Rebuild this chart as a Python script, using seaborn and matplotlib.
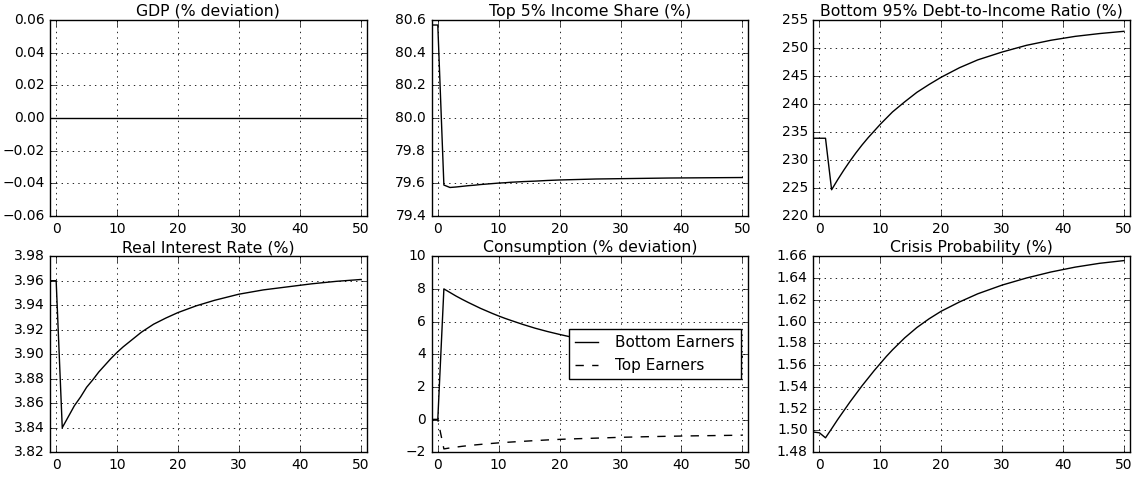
import matplotlib
matplotlib.use("Agg")
from matplotlib import pyplot as plt
from matplotlib.ticker import FuncFormatter
import pandas as pd
import seaborn as sns

# ------------------------------- Data --------------------------------
periods = [-1, 0, 1, 2, 3, 4, 5, 6, 7, 8, 9, 10, 11, 12, 14, 16, 18, 20, 23, 26, 30, 34, 38, 42, 46, 50]

gdp = [0.0] * len(periods)
top_share = [80.57, 80.57, 79.59, 79.575, 79.578, 79.582, 79.586, 79.589, 79.593, 79.596,
             79.599, 79.602, 79.604, 79.607, 79.611, 79.614, 79.618, 79.621, 79.624, 79.627,
             79.629, 79.631, 79.633, 79.634, 79.635, 79.636]
debt_ratio = [233.9, 233.9, 233.9, 224.7, 226.5, 228.2, 229.8, 231.3, 232.7, 234.0,
              235.2, 236.4, 237.5, 238.6, 240.4, 242.1, 243.5, 244.8, 246.5, 247.9,
              249.3, 250.5, 251.4, 252.1, 252.6, 253.0]
interest_rate = [3.960, 3.960, 3.840, 3.849, 3.858, 3.865, 3.873, 3.879, 3.8855, 3.891,
                 3.8965, 3.9015, 3.906, 3.910, 3.918, 3.9245, 3.9295, 3.934, 3.9395, 3.944,
                 3.949, 3.9525, 3.955, 3.9575, 3.9595, 3.961]
cons_bottom = [0.0, 0.0, 8.00, 7.78, 7.56, 7.36, 7.17, 6.99, 6.81, 6.65,
               6.49, 6.34, 6.20, 6.07, 5.82, 5.59, 5.39, 5.21, 4.96, 4.76,
               4.53, 4.34, 4.18, 4.05, 3.95, 3.87]
cons_top = [0.0, 0.0, -1.80, -1.74, -1.69, -1.64, -1.60, -1.56, -1.525, -1.49,
            -1.46, -1.43, -1.405, -1.38, -1.335, -1.29, -1.25, -1.215, -1.175, -1.14,
            -1.09, -1.055, -1.025, -1.00, -0.98, -0.96]
crisis_prob = [1.4985, 1.4978, 1.4932, 1.5015, 1.510, 1.518, 1.526, 1.5335, 1.541, 1.548,
               1.555, 1.5615, 1.568, 1.574, 1.585, 1.5945, 1.6025, 1.6095, 1.618, 1.6255,
               1.6335, 1.640, 1.6455, 1.650, 1.6535, 1.656]

titles = ["GDP (% deviation)", "Top 5% Income Share (%)", "Bottom 95% Debt-to-Income Ratio (%)",
          "Real Interest Rate (%)", "Consumption (% deviation)", "Crisis Probability (%)"]
y_ticks = [
    [-0.06, -0.04, -0.02, 0.00, 0.02, 0.04, 0.06],
    [79.4, 79.6, 79.8, 80.0, 80.2, 80.4, 80.6],
    [220, 225, 230, 235, 240, 245, 250, 255],
    [3.82, 3.84, 3.86, 3.88, 3.90, 3.92, 3.94, 3.96, 3.98],
    [-2, 0, 2, 4, 6, 8, 10],
    [1.48, 1.50, 1.52, 1.54, 1.56, 1.58, 1.60, 1.62, 1.64, 1.66],
]
y_decimals = [2, 1, 0, 2, 0, 2]


def make_formatter(decimals):
    # unicode minus like the classic matplotlib tick labels
    return FuncFormatter(lambda v, pos: f"{v:.{decimals}f}".replace("-", "\u2212"))


# ------------------------------- Plot --------------------------------
plt.style.use("classic")
plt.rcParams["font.family"] = ["DejaVu Sans"]
plt.rcParams["font.size"] = 10

df = pd.DataFrame({
    "t": periods,
    "gdp": gdp,
    "top_share": top_share,
    "debt_ratio": debt_ratio,
    "interest_rate": interest_rate,
    "cons_bottom": cons_bottom,
    "cons_top": cons_top,
    "crisis_prob": crisis_prob,
})

fig, axes = plt.subplots(2, 3, figsize=(11.38, 4.79), facecolor="white")
fig.subplots_adjust(left=0.044, right=0.993, top=0.958, bottom=0.056, wspace=0.205, hspace=0.205)

series = ["gdp", "top_share", "debt_ratio", "interest_rate", None, "crisis_prob"]
for i, ax in enumerate(axes.flat):
    if series[i] is not None:
        sns.lineplot(data=df, x="t", y=series[i], ax=ax, color="k", linewidth=1)
    else:
        sns.lineplot(data=df, x="t", y="cons_bottom", ax=ax, color="k", linewidth=1,
                     label="Bottom Earners")
        sns.lineplot(data=df, x="t", y="cons_top", ax=ax, color="k", linewidth=1,
                     linestyle="--", label="Top Earners")
        ax.legend(loc="center right", fontsize=11, frameon=True, fancybox=False,
                  numpoints=1, handlelength=1.5, handletextpad=1.1)
    ax.set_title(titles[i], fontsize=11.3, pad=3)
    ax.set_xlabel("")
    ax.set_ylabel("")
    ax.set_xlim(-1, 51)
    ax.set_xticks([0, 10, 20, 30, 40, 50])
    ax.set_yticks(y_ticks[i])
    ax.set_ylim(y_ticks[i][0], y_ticks[i][-1])
    ax.yaxis.set_major_formatter(make_formatter(y_decimals[i]))
    ax.tick_params(labelsize=10, direction="in", top=True, right=True)
    ax.grid(True, color="k", linestyle=":", linewidth=0.6)
    ax.set_facecolor("white")

plt.savefig("out.png", dpi=100, facecolor="white")
